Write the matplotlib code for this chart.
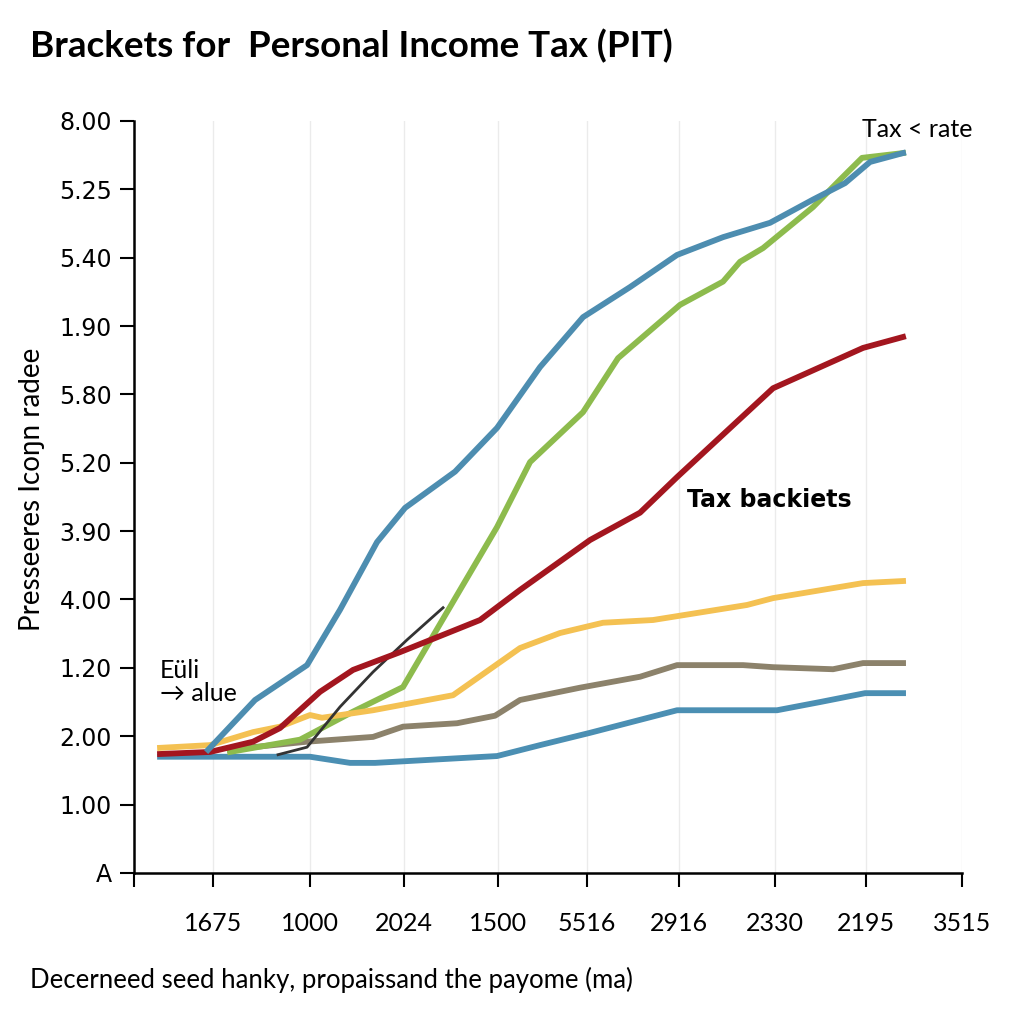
import matplotlib
matplotlib.use("Agg")
import matplotlib.pyplot as plt

# x positions of the ticks and their labels
x_ticks = [0, 79, 176, 270, 364, 453, 545, 641, 732, 828]
x_labels = ["", "1675", "1000", "2024", "1500", "5516", "2916", "2330", "2195", "3515"]
y_ticks = list(range(12))
y_labels = ["A", "1.00", "2.00", "1.20", "4.00", "3.90", "5.20", "5.80", "1.90", "5.40", "5.25", "8.00"]

# series
top_blue_x = [74, 121, 173, 206, 243, 271, 321, 363, 406, 449, 496, 543, 589, 636, 679, 711, 736, 769]
top_blue_y = [1.80, 2.53, 3.04, 3.85, 4.84, 5.34, 5.87, 6.51, 7.40, 8.13, 8.57, 9.04, 9.30, 9.51, 9.85, 10.09, 10.40, 10.53]

green_x = [96, 166, 219, 269, 326, 363, 396, 449, 484, 546, 589, 606, 629, 679, 706, 728, 769]
green_y = [1.77, 1.95, 2.36, 2.72, 4.14, 5.06, 6.01, 6.74, 7.53, 8.31, 8.65, 8.94, 9.14, 9.74, 10.14, 10.46, 10.53]

red_x = [26, 76, 119, 146, 186, 219, 266, 346, 386, 456, 506, 543, 639, 729, 769]
red_y = [1.74, 1.77, 1.92, 2.12, 2.65, 2.97, 3.23, 3.70, 4.14, 4.87, 5.27, 5.79, 7.09, 7.68, 7.84]

yellow_x = [26, 76, 119, 146, 176, 188, 239, 319, 386, 426, 469, 519, 613, 639, 729, 769]
yellow_y = [1.83, 1.87, 2.06, 2.14, 2.31, 2.27, 2.38, 2.60, 3.29, 3.51, 3.66, 3.70, 3.92, 4.02, 4.24, 4.27]

taupe_x = [96, 119, 173, 239, 269, 323, 361, 386, 446, 506, 543, 609, 639, 699, 729, 769]
taupe_y = [1.80, 1.84, 1.92, 1.99, 2.14, 2.19, 2.30, 2.53, 2.71, 2.87, 3.04, 3.04, 3.01, 2.98, 3.07, 3.07]

low_blue_x = [26, 176, 216, 241, 363, 406, 456, 543, 643, 686, 731, 769]
low_blue_y = [1.70, 1.70, 1.61, 1.61, 1.71, 1.87, 2.05, 2.38, 2.38, 2.50, 2.63, 2.63]

dark_x = [144, 173, 206, 239, 273, 309]
dark_y = [1.73, 1.84, 2.43, 2.94, 3.41, 3.88]

fig = plt.figure(figsize=(10.24, 10.24), dpi=100)
ax = fig.add_axes([0.1309, 0.1475, 0.8086, 0.7344])

for xv in x_ticks[1:]:
    ax.axvline(xv, color="#ebebeb", lw=1, zorder=0)

lw = 4.2
ax.plot(low_blue_x, low_blue_y, color="#4b8fb3", lw=lw)
ax.plot(taupe_x, taupe_y, color="#8c826b", lw=lw)
ax.plot(green_x, green_y, color="#8dbb4d", lw=lw)
ax.plot(yellow_x, yellow_y, color="#f4c152", lw=lw)
ax.plot(dark_x, dark_y, color="#333333", lw=2)
ax.plot(red_x, red_y, color="#a3161f", lw=lw)
ax.plot(top_blue_x, top_blue_y, color="#4d8db0", lw=lw)

ax.set_xlim(0, 828)
ax.set_ylim(0, 11)
ax.set_xticks(x_ticks)
ax.set_xticklabels(x_labels, family="Lato", fontsize=18)
ax.set_yticks(y_ticks)
ax.set_yticklabels(y_labels, family="DejaVu Sans", fontsize=17)
ax.tick_params(axis="x", length=10, width=1.5, pad=18)
ax.tick_params(axis="y", length=10, width=1.5, pad=6)
ax.spines["top"].set_visible(False)
ax.spines["right"].set_visible(False)
ax.spines["left"].set_linewidth(1.8)
ax.spines["bottom"].set_linewidth(1.8)

ax.set_ylabel("Presseeres Icoŋn radee", family="Lato", fontsize=20)
ax.yaxis.set_label_coords(-0.108, 0.51)

fig.text(0.029, 0.955, "Brackets for  Personal Income Tax (PIT)", family="Lato",
         fontweight="bold", fontsize=26.5, va="center", ha="left")
fig.text(0.029, 0.043, "Decerneed seed hanky, propaissand the payome (ma)", family="Lato",
         fontsize=18.5, va="center", ha="left")

ax.text(728, 10.88, "Tax < rate", family="Lato", fontsize=18, va="center", ha="left")
ax.text(553, 5.45, "Tax backiets", family="DejaVu Sans", fontweight="bold", fontsize=17,
        va="center", ha="left")
ax.text(26, 2.8, "Eüli\n→ alue", family="Lato", fontsize=18, va="center", ha="left",
        linespacing=1.0)

fig.savefig("out.png", dpi=100, facecolor="white")
